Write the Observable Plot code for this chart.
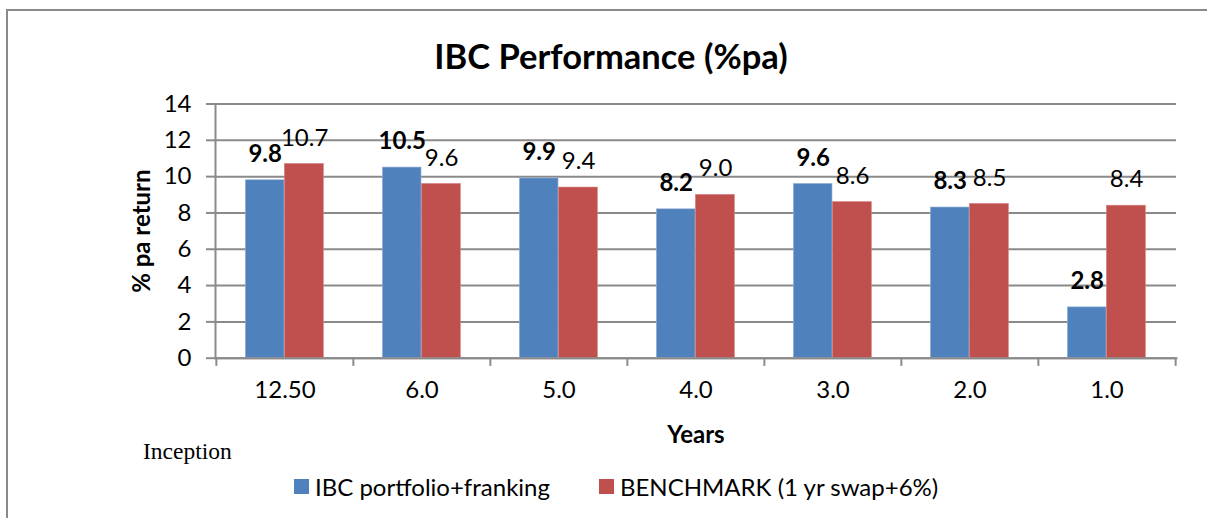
<!DOCTYPE html>
<html>
<head>
<meta charset="utf-8">
<script src="https://cdn.jsdelivr.net/npm/d3@7"></script>
<script src="https://cdn.jsdelivr.net/npm/@observablehq/plot@0.6"></script>
<style>
  html, body { margin: 0; padding: 0; background: #fff; }
  #wrap { position: relative; width: 1207px; height: 518px; overflow: hidden; font-family: Lato, "Noto Sans", sans-serif; }
  #frame { position: absolute; left: 6px; top: 9px; width: 1300px; height: 600px; border-left: 2px solid #8a8a8a; border-top: 2px solid #8a8a8a; }
  #chart { position: absolute; left: 0; top: 0; }
  #inception { position: absolute; left: 143px; top: 438px; font-family: "Liberation Serif", "DejaVu Serif", serif; font-size: 23.5px; color: #000; }
  #legend { position: absolute; top: 472px; left: 294px; display: flex; align-items: center; font-size: 24px; color: #000; }
  .sw { display: inline-block; width: 15px; height: 15px; margin-right: 6px; }
  .item { display: flex; align-items: center; margin-right: 49px; }
</style>
</head>
<body>
<div id="wrap">
  <div id="frame"></div>
  <div id="chart"></div>
  <div id="inception">Inception</div>
  <div id="legend"></div>
</div>
<script>
const years = ["12.50", "6.0", "5.0", "4.0", "3.0", "2.0", "1.0"];
const ibcValues = [9.8, 10.5, 9.9, 8.2, 9.6, 8.3, 2.8];
const benchmarkValues = [10.7, 9.6, 9.4, 9.0, 8.6, 8.5, 8.4];
const seriesNames = ["IBC portfolio+franking", "BENCHMARK (1 yr swap+6%)"];
const seriesColors = ["#4F81BD", "#C0504D"];
const yTicks = [0, 2, 4, 6, 8, 10, 12, 14];
const titleText = "IBC Performance (%pa)";
const yLabel = "% pa return";
const xLabel = "Years";

const ibc = years.map((y, i) => ({year: y, value: ibcValues[i]}));
const bench = years.map((y, i) => ({year: y, value: benchmarkValues[i]}));

const W = 1207, H = 470;
const mL = 215, mR = 31, mT = 103.5, mB = H - 357.7;
const band = (W - mL - mR) / years.length;
const fmt = d3.format(".1f");
const FONT = 24;

const chart = Plot.plot({
  width: W,
  height: H,
  marginLeft: mL,
  marginRight: mR,
  marginTop: mT,
  marginBottom: mB,
  style: {fontFamily: "Lato, 'Noto Sans', sans-serif", color: "#000", background: "transparent"},
  x: {type: "band", domain: years, padding: 0},
  y: {domain: [0, 14]},
  marks: [
    Plot.gridY(yTicks, {stroke: "#8a8a8a", strokeOpacity: 1, strokeWidth: 2}),
    Plot.barY(ibc, {x: "year", y: "value", fill: seriesColors[0], insetLeft: 29.3, insetRight: band - 68.3, stroke: "#9db7d9", strokeWidth: 0.6}),
    Plot.barY(bench, {x: "year", y: "value", fill: seriesColors[1], insetLeft: 68.3, insetRight: 29.6, stroke: "#d88a88", strokeWidth: 0.6}),
    Plot.frame({anchor: "left", stroke: "#8a8a8a", strokeWidth: 2}),
    Plot.frame({anchor: "bottom", stroke: "#8a8a8a", strokeWidth: 2}),
    Plot.ruleX(years, {x: d => d, dx: -band / 2, y1: 0, y2: -0.45, stroke: "#8a8a8a", strokeWidth: 2}),
    Plot.ruleX(years.slice(-1), {x: d => d, dx: band / 2, y1: 0, y2: -0.45, stroke: "#8a8a8a", strokeWidth: 2}),
    Plot.axisY(yTicks, {tickSize: 9, tickPadding: 15, fontSize: FONT, stroke: "#8a8a8a", strokeWidth: 2, label: null, color: "#000"}),
    Plot.axisX({tickSize: 0, tickPadding: 23, fontSize: FONT, label: null}),
    Plot.text(ibc, {x: "year", y: "value", text: d => fmt(d.value), dx: -19.8, dy: -26, lineAnchor: "middle", fontWeight: "bold", fontSize: FONT, fill: "#000"}),
    Plot.text(bench, {x: "year", y: "value", text: d => fmt(d.value), dx: 19.6, dy: -26, lineAnchor: "middle", fontSize: FONT, fill: "#000"}),
    Plot.text([yLabel], {frameAnchor: "left", textAnchor: "middle", rotate: -90, dx: -73, fontWeight: "bold", fontSize: FONT, fill: "#000"}),
    Plot.text([xLabel], {frameAnchor: "bottom", dy: 77, lineAnchor: "middle", fontWeight: "bold", fontSize: FONT, fill: "#000"}),
    Plot.text([titleText], {frameAnchor: "top", dx: -85, dy: -46, lineAnchor: "middle", fontWeight: "bold", fontSize: 34.5, fill: "#000"})
  ]
});
document.getElementById("chart").appendChild(chart);

const legend = document.getElementById("legend");
seriesNames.forEach((name, i) => {
  const item = document.createElement("div");
  item.className = "item";
  const sw = document.createElement("span");
  sw.className = "sw";
  sw.style.background = seriesColors[i];
  item.appendChild(sw);
  item.appendChild(document.createTextNode(name));
  legend.appendChild(item);
});
</script>
</body>
</html>
